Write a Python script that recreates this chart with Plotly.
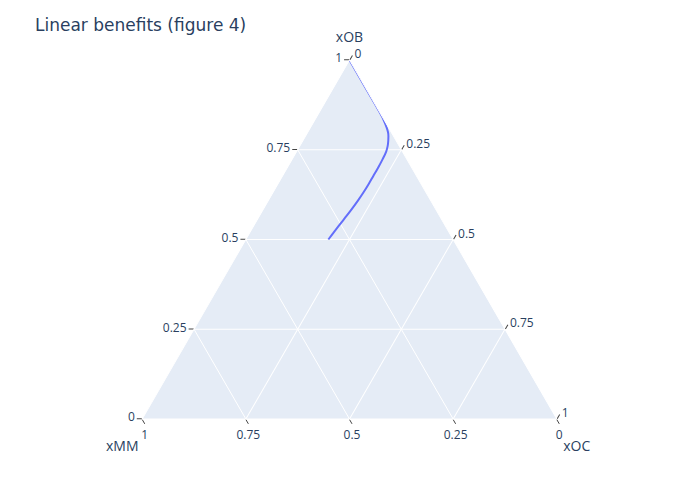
import plotly.graph_objects as go

xOB = [1.0, 0.92, 0.86, 0.835, 0.82, 0.805, 0.795, 0.775, 0.76, 0.745, 0.724, 0.7, 0.677, 0.654, 0.631, 0.607, 0.584, 0.56, 0.537, 0.52, 0.5]
xMM = [0.0, 0.0, 0.0, 0.001, 0.003, 0.006, 0.009, 0.019, 0.028, 0.039, 0.058, 0.081, 0.104, 0.127, 0.151, 0.177, 0.203, 0.231, 0.258, 0.278, 0.301]
xOC = [0.0, 0.08, 0.14, 0.164, 0.177, 0.189, 0.196, 0.206, 0.212, 0.216, 0.218, 0.219, 0.219, 0.219, 0.218, 0.216, 0.213, 0.209, 0.205, 0.202, 0.199]

fig = go.Figure(go.Scatterternary(
    a=xOB, b=xMM, c=xOC, mode="lines",
    line=dict(color="#636efa", width=2, shape="spline"),
))

axis_common = dict(dtick=0.25, ticks="outside")
fig.update_layout(
    width=700, height=500,
    margin=dict(t=52, b=89, l=71, r=88),
    title=dict(text="Linear benefits (figure 4)", x=0.0386, xref="container",
               xanchor="left", y=0.966, yref="container", yanchor="middle",
               font=dict(family="DejaVu Sans", size=17)),
    ternary=dict(
        aaxis=dict(title=dict(text="xOB"), **axis_common),
        baxis=dict(title=dict(text="xMM"), **axis_common),
        caxis=dict(title=dict(text="xOC"), **axis_common),
    ),
)
fig.write_html("out.html")
